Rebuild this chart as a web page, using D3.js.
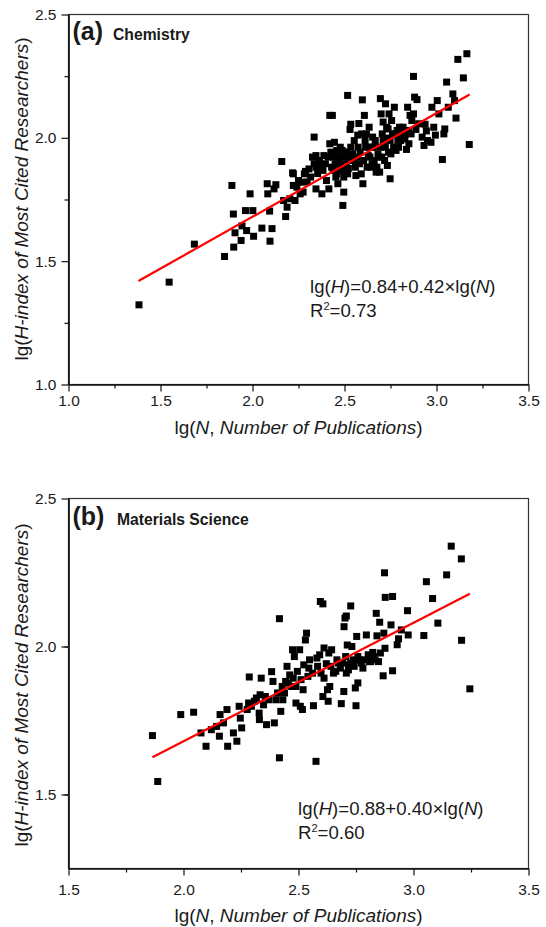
<!DOCTYPE html>
<html>
<head>
<meta charset="utf-8">
<script src="https://cdn.jsdelivr.net/npm/d3@7"></script>
<style>
  body { margin: 0; background: #fff; }
  text { font-family: "Liberation Sans", Arial, sans-serif; fill: #1a1a1a; }
</style>
</head>
<body>
<div id="chart"></div>
<script>
// [lg(N), lg(H)], panel (a) Chemistry
const chemistryPoints = [
  [1.383,1.323],[1.547,1.415],[1.684,1.569],[1.848,1.519],[1.888,1.807],[1.896,1.691],[1.898,1.557],
  [1.905,1.615],[1.938,1.584],[1.943,1.643],[1.962,1.705],[1.968,1.624],[1.987,1.773],[2.002,1.705],
  [2.006,1.601],[2.051,1.634],[2.080,1.814],[2.083,1.773],[2.093,1.703],[2.095,1.581],[2.106,1.632],
  [2.117,1.793],[2.127,1.810],[2.159,1.904],[2.169,1.746],[2.180,1.681],[2.188,1.719],[2.203,1.753],
  [2.218,1.858],[2.222,1.807],[2.231,1.746],[2.250,1.827],[2.259,1.773],[2.275,1.780],[2.288,1.864],
  [2.297,1.821],[2.316,1.841],[2.335,2.003],[2.335,1.895],[2.345,1.928],[2.345,1.793],[2.354,1.855],
  [2.369,1.881],[2.377,1.773],[2.388,1.928],[2.402,1.827],[2.415,1.793],[2.420,2.091],[2.434,2.091],
  [2.420,1.976],[2.430,1.881],[2.439,1.922],[2.445,1.982],[2.453,1.841],[2.458,1.949],[2.464,1.814],
  [2.472,1.897],[2.477,1.962],[2.487,1.868],[2.491,1.726],[2.496,1.780],[2.500,1.922],[2.509,1.943],
  [2.517,2.172],[2.521,1.876],[2.530,2.034],[2.534,2.055],[2.544,1.935],[2.559,1.881],[2.562,1.847],
  [2.572,2.011],[2.578,2.058],[2.581,1.895],[2.591,1.854],[2.597,2.154],[2.600,1.814],[2.608,2.091],
  [2.615,1.962],[2.619,2.016],[2.629,1.928],[2.634,2.043],[2.642,1.881],[2.648,1.962],[2.653,2.003],
  [2.661,1.908],[2.672,1.861],[2.682,1.935],[2.691,1.861],[2.695,2.159],[2.699,2.097],[2.705,2.016],
  [2.710,2.064],[2.714,1.976],[2.718,1.908],[2.723,2.138],[2.729,1.999],[2.733,1.888],[2.737,2.036],
  [2.742,2.097],[2.748,1.834],[2.752,1.935],[2.761,2.016],[2.771,2.124],[2.780,1.949],[2.790,1.989],
  [2.799,2.043],[2.809,2.016],[2.828,1.995],[2.837,1.953],[2.843,2.124],[2.850,1.976],[2.856,2.091],
  [2.866,2.070],[2.875,2.249],[2.881,2.165],[2.888,2.034],[2.894,2.155],[2.932,1.969],[2.938,2.055],
  [2.945,2.028],[2.970,1.982],[2.975,2.124],[2.985,2.043],[2.994,2.011],[3.004,2.151],[3.013,2.097],
  [3.032,1.912],[3.040,2.016],[3.045,2.036],[3.055,2.226],[3.064,2.124],[3.089,2.178],[3.098,2.151],
  [3.106,2.080],[3.116,2.318],[3.146,2.243],[3.165,2.341],[3.178,1.973],
  // dense middle of the cloud
  [2.222,1.854],[2.241,1.800],[2.263,1.820],[2.282,1.854],[2.307,1.874],[2.326,1.922],[2.345,1.881],
  [2.364,1.908],[2.383,1.868],[2.396,1.895],[2.411,1.922],[2.426,1.942],[2.439,1.868],[2.449,1.895],
  [2.458,1.854],[2.468,1.922],[2.477,1.881],[2.487,1.949],[2.496,1.841],[2.509,1.895],[2.517,1.854],
  [2.525,1.922],[2.534,1.962],[2.547,1.908],[2.553,1.989],[2.566,1.922],[2.574,1.962],[2.585,1.942],
  [2.593,2.016],[2.604,1.908],[2.612,1.989],[2.623,1.881],[2.631,1.962],[2.638,1.922],[2.650,1.895],
  [2.657,1.962],[2.667,1.989],[2.676,1.881],[2.688,1.922],[2.695,1.962],[2.703,1.922],[2.710,1.989],
  [2.722,1.962],[2.729,2.043],[2.739,1.942],[2.748,1.989],[2.756,2.070],[2.767,1.962],[2.775,2.016],
  [2.786,2.030],[2.794,1.962],[2.805,1.989],[2.818,2.043],[2.831,2.016],[2.847,2.030],[2.862,2.016],
  [2.875,2.097],[2.903,2.057],[2.922,2.003],[2.951,1.989]
];

// [lg(N), lg(H)] panel (b) Materials Science
const materialsPoints = [
  [1.865,1.699],[1.888,1.544],[1.988,1.770],[2.044,1.778],[2.076,1.708],[2.098,1.663],[2.121,1.719],
  [2.144,1.730],[2.156,1.697],[2.159,1.770],[2.174,1.742],[2.189,1.787],[2.192,1.663],[2.217,1.708],
  [2.232,1.680],[2.242,1.798],[2.247,1.758],[2.253,1.725],[2.277,1.787],[2.286,1.897],[2.283,1.809],
  [2.317,1.826],[2.329,1.775],[2.330,1.753],[2.338,1.893],[2.333,1.837],[2.356,1.831],[2.361,1.736],
  [2.383,1.915],[2.389,1.882],[2.395,1.742],[2.402,1.820],[2.417,2.094],[2.417,1.624],[2.423,1.781],
  [2.432,1.820],[2.439,1.843],[2.450,1.933],[2.456,1.876],[2.462,1.904],[2.474,1.989],[2.482,1.966],
  [2.489,1.865],[2.489,1.809],[2.495,1.916],[2.505,1.989],[2.508,1.798],[2.517,1.787],[2.523,1.938],
  [2.530,2.022],[2.535,2.045],[2.541,1.899],[2.548,1.955],[2.565,1.800],[2.576,1.612],[2.580,1.961],
  [2.592,1.972],[2.595,2.152],[2.606,2.144],[2.606,1.831],[2.611,1.995],[2.611,1.893],[2.621,1.942],
  [2.626,1.854],[2.629,1.815],[2.632,1.978],[2.636,1.865],[2.644,1.989],[2.662,1.916],[2.674,1.944],
  [2.686,1.807],[2.697,1.848],[2.698,2.067],[2.702,2.096],[2.708,2.103],[2.708,1.910],[2.712,2.005],
  [2.720,1.938],[2.727,2.137],[2.732,2.000],[2.738,1.955],[2.747,1.860],[2.750,1.800],[2.753,2.034],
  [2.758,1.877],[2.765,1.955],[2.780,1.927],[2.795,2.039],[2.803,1.972],[2.814,1.949],[2.823,1.980],
  [2.838,2.112],[2.841,2.036],[2.848,1.949],[2.853,2.082],[2.856,1.978],[2.868,1.901],[2.871,2.045],
  [2.874,2.249],[2.876,1.994],[2.877,2.166],[2.902,2.073],[2.909,2.169],[2.909,1.918],[2.929,2.006],
  [2.935,2.026],[2.947,2.056],[2.974,2.121],[2.977,2.039],[3.045,2.037],[3.056,2.219],[3.083,2.162],
  [3.106,2.079],[3.144,2.242],[3.164,2.339],[3.208,2.296],[3.209,2.021],[3.245,1.857],
  [2.295,1.798],[2.308,1.815],[2.348,1.803],[2.371,1.820],[2.409,1.843],[2.429,1.865],[2.444,1.882],
  [2.470,1.865],[2.477,1.893],[2.511,1.888],[2.520,1.854],[2.545,1.927],[2.561,1.910],[2.583,1.933],
  [2.598,1.910],[2.641,1.933],[2.652,1.910],[2.667,1.955],[2.682,1.927],[2.692,1.944],[2.705,1.966],
  [2.717,1.921],[2.727,1.944],[2.742,1.933],[2.758,1.966],[2.773,1.944],[2.788,1.955],[2.808,1.949],
  [2.826,1.966],[2.833,1.955]
];

// linear fits printed on the chart: lg(H) = intercept + slope * lg(N)
const chemistryFit = { intercept: 0.84, slope: 0.42, from: 1.38, to: 3.18, r2: "0.73" };
const materialsFit = { intercept: 0.88, slope: 0.40, from: 1.865, to: 3.245, r2: "0.60" };

const chemistryXTicks = [1.0, 1.5, 2.0, 2.5, 3.0, 3.5];
const chemistryYTicks = [1.0, 1.5, 2.0, 2.5];
const materialsXTicks = [1.5, 2.0, 2.5, 3.0, 3.5];
const materialsYTicks = [1.5, 2.0, 2.5];

const width = 546, height = 927;

const svg = d3.select("#chart")
  .append("svg")
  .attr("width", width)
  .attr("height", height);

const panels = [
  {
    letter: "(a)", name: "Chemistry", points: chemistryPoints, fit: chemistryFit,
    xDomain: [1.0, 3.5], yDomain: [1.0, 2.5],
    xTicks: chemistryXTicks, yTicks: chemistryYTicks,
    left: 68.5, right: 528.5, top: 14.5, bottom: 384.5,
    xPad: 3, nameX: 113, titleY: 40, eqX: 310, eqY: 293, xLabelY: 434, yLabelY: 199
  },
  {
    letter: "(b)", name: "Materials Science", points: materialsPoints, fit: materialsFit,
    xDomain: [1.5, 3.5], yDomain: [1.25, 2.5],
    xTicks: materialsXTicks, yTicks: materialsYTicks,
    left: 68.5, right: 528.5, top: 498.5, bottom: 868.5,
    xPad: 8, nameX: 117, titleY: 525, eqX: 298, eqY: 815, xLabelY: 922, yLabelY: 685
  }
];

function minorTicks(domain) {
  const out = [];
  for (let v = domain[0] + 0.25; v < domain[1]; v += 0.5) out.push(+v.toFixed(2));
  return out;
}

function styleAxis(sel, size) {
  sel.select(".domain").attr("stroke", "#111").attr("stroke-width", 1.2);
  sel.selectAll(".tick line").attr("stroke", "#111").attr("stroke-width", 1.2);
  sel.selectAll("text")
    .attr("font-family", "'Liberation Sans', Arial, sans-serif")
    .attr("font-size", size)
    .attr("fill", "#1a1a1a");
}

panels.forEach(p => {
  const x = d3.scaleLinear().domain(p.xDomain).range([p.left, p.right]);
  const y = d3.scaleLinear().domain(p.yDomain).range([p.bottom, p.top]);
  const g = svg.append("g");

  // box
  g.append("rect")
    .attr("x", p.left).attr("y", p.top)
    .attr("width", p.right - p.left).attr("height", p.bottom - p.top)
    .attr("fill", "none").attr("stroke", "#333").attr("stroke-width", 1.2);

  // minor ticks
  g.append("g")
    .attr("transform", "translate(0," + p.bottom + ")")
    .call(d3.axisBottom(x).tickValues(minorTicks(p.xDomain)).tickSize(4).tickSizeOuter(0).tickFormat(""))
    .call(s => styleAxis(s, 15));
  g.append("g")
    .attr("transform", "translate(" + p.left + ",0)")
    .call(d3.axisLeft(y).tickValues(minorTicks(p.yDomain)).tickSize(4).tickSizeOuter(0).tickFormat(""))
    .call(s => styleAxis(s, 15));

  // major ticks
  g.append("g")
    .attr("transform", "translate(0," + p.bottom + ")")
    .call(d3.axisBottom(x).tickValues(p.xTicks).tickSize(7).tickSizeOuter(0)
      .tickPadding(p.xPad).tickFormat(d3.format(".1f")))
    .call(s => styleAxis(s, 15.5));
  g.append("g")
    .attr("transform", "translate(" + p.left + ",0)")
    .call(d3.axisLeft(y).tickValues(p.yTicks).tickSize(7).tickSizeOuter(0)
      .tickPadding(5).tickFormat(d3.format(".1f")))
    .call(s => styleAxis(s, 15.5));

  // points
  const s = 7;
  g.selectAll(".pt")
    .data(p.points)
    .enter().append("rect")
    .attr("class", "pt")
    .attr("x", d => x(d[0]) - s / 2)
    .attr("y", d => y(d[1]) - s / 2)
    .attr("width", s).attr("height", s)
    .attr("fill", "#000");

  // fit line
  const f = p.fit;
  g.append("line")
    .attr("x1", x(f.from)).attr("y1", y(f.intercept + f.slope * f.from))
    .attr("x2", x(f.to)).attr("y2", y(f.intercept + f.slope * f.to))
    .attr("stroke", "#f00").attr("stroke-width", 2.2);

  // panel title
  g.append("text")
    .attr("x", p.left + 4).attr("y", p.titleY)
    .attr("font-size", 25).attr("font-weight", "bold")
    .text(p.letter);
  g.append("text")
    .attr("x", p.nameX).attr("y", p.titleY)
    .attr("font-size", 15.7).attr("font-weight", "bold")
    .text(p.name);

  // equation
  const eq = g.append("text").attr("x", p.eqX).attr("y", p.eqY).attr("font-size", 18.6);
  eq.append("tspan").text("lg(");
  eq.append("tspan").attr("font-style", "italic").text("H");
  eq.append("tspan").text(")=" + f.intercept.toFixed(2) + "+" + f.slope.toFixed(2) + "\u00d7lg(");
  eq.append("tspan").attr("font-style", "italic").text("N");
  eq.append("tspan").text(")");

  const r2 = g.append("text").attr("x", p.eqX).attr("y", p.eqY + 24).attr("font-size", 18.6);
  r2.append("tspan").text("R");
  r2.append("tspan").attr("font-size", 11).attr("dy", -7).text("2");
  r2.append("tspan").attr("dy", 7).text("=" + f.r2);

  // axis titles
  const xl = g.append("text")
    .attr("x", (p.left + p.right) / 2).attr("y", p.xLabelY)
    .attr("text-anchor", "middle").attr("font-size", 19);
  xl.append("tspan").text("lg(");
  xl.append("tspan").attr("font-style", "italic").text("N");
  xl.append("tspan").text(", ");
  xl.append("tspan").attr("font-style", "italic").text("Number of Publications");
  xl.append("tspan").text(")");

  const yl = g.append("text")
    .attr("transform", "translate(28," + p.yLabelY + ") rotate(-90)")
    .attr("text-anchor", "middle").attr("font-size", 19);
  yl.append("tspan").text("lg(");
  yl.append("tspan").attr("font-style", "italic").text("H-index of Most Cited Researchers");
  yl.append("tspan").text(")");
});
</script>
</body>
</html>
